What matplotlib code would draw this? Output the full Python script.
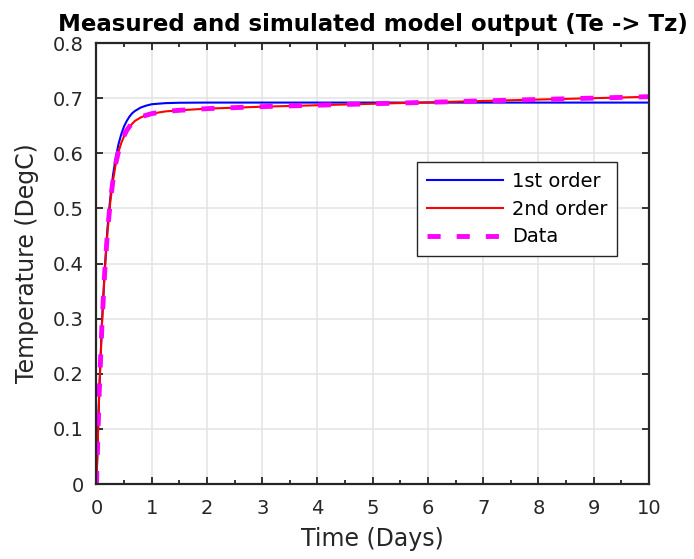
import matplotlib
matplotlib.use('Agg')
import matplotlib.pyplot as plt
from matplotlib.ticker import MultipleLocator, FuncFormatter

# ----------- Data -------------------------------------
time_days = [0, 0.05, 0.1, 0.15, 0.2, 0.25, 0.3, 0.35, 0.4, 0.45, 0.5, 0.55, 0.6,
             0.65, 0.7, 0.75, 0.8, 0.9, 1.0, 1.25, 1.5, 2, 3, 4, 5, 6, 7, 8, 9, 10]

first_order = [0, 0.168, 0.295, 0.391, 0.465, 0.519, 0.561, 0.593, 0.617, 0.635,
               0.649, 0.659, 0.667, 0.673, 0.677, 0.680, 0.683, 0.6865, 0.689,
               0.691, 0.6917, 0.692, 0.692, 0.692, 0.692, 0.692, 0.692, 0.692,
               0.692, 0.692]

second_order = [0, 0.165, 0.29, 0.385, 0.457, 0.511, 0.551, 0.581, 0.603, 0.619,
                0.631, 0.641, 0.648, 0.654, 0.659, 0.662, 0.665, 0.669, 0.672,
                0.676, 0.678, 0.681, 0.6845, 0.6872, 0.6898, 0.6924, 0.6950,
                0.6975, 0.7000, 0.7025]

measured = [0, 0.166, 0.291, 0.386, 0.458, 0.512, 0.552, 0.582, 0.604, 0.620,
            0.632, 0.642, 0.649, 0.655, 0.66, 0.663, 0.666, 0.669, 0.672,
            0.676, 0.678, 0.681, 0.6847, 0.6873, 0.6899, 0.6925, 0.6951,
            0.6976, 0.7001, 0.7027]

x_ticks = list(range(0, 11))
y_ticks = [0, 0.1, 0.2, 0.3, 0.4, 0.5, 0.6, 0.7, 0.8]

# ----------- Plot ------------
fig = plt.figure(figsize=(6.94, 5.59), dpi=100)
ax = fig.add_axes([0.139, 0.134, 0.796, 0.789])

ax.plot(time_days, first_order, color='#0000ff', lw=1.5, label='1st order')
ax.plot(time_days, second_order, color='#ff0000', lw=1.5, label='2nd order')
ax.plot(time_days, measured, color='#ff00ff', lw=3.5, dashes=(2.7, 3.3), label='Data')

ax.set_xlim(0, 10)
ax.set_ylim(0, 0.8)
ax.set_xticks(x_ticks)
ax.set_yticks(y_ticks)
ax.xaxis.set_minor_locator(MultipleLocator(0.5))
ax.yaxis.set_major_formatter(FuncFormatter(lambda v, p: '%g' % round(v, 2)))

ax.grid(True, which='major', color='#e3e3e3', lw=1.1)
ax.set_axisbelow(True)

for side in ax.spines.values():
    side.set_color('#262626')
    side.set_linewidth(1.6)

ax.tick_params(which='both', direction='in', top=True, right=True, color='#262626',
               labelcolor='#262626', labelsize=14)
ax.tick_params(which='major', length=5, width=1.3)
ax.tick_params(which='minor', length=3, width=1.3)
ax.tick_params(axis='x', which='major', pad=11)
ax.tick_params(axis='y', which='major', pad=9)

ax.set_xlabel('Time (Days)', fontsize=17, color='#262626', labelpad=6)
ax.set_ylabel('Temperature (DegC)', fontsize=17, color='#262626', labelpad=10)
ax.set_title('Measured and simulated model output (Te -> Tz)', fontsize=16.5,
             fontweight='bold', pad=9)

leg = ax.legend(loc='upper right', bbox_to_anchor=(0.942, 0.73), borderaxespad=0,
                fontsize=14, fancybox=False, framealpha=1, edgecolor='#262626',
                handlelength=3.9, handletextpad=0.45, labelspacing=0.45,
                borderpad=0.5)
leg.get_frame().set_linewidth(1.0)

fig.savefig('out.png', dpi=100)
